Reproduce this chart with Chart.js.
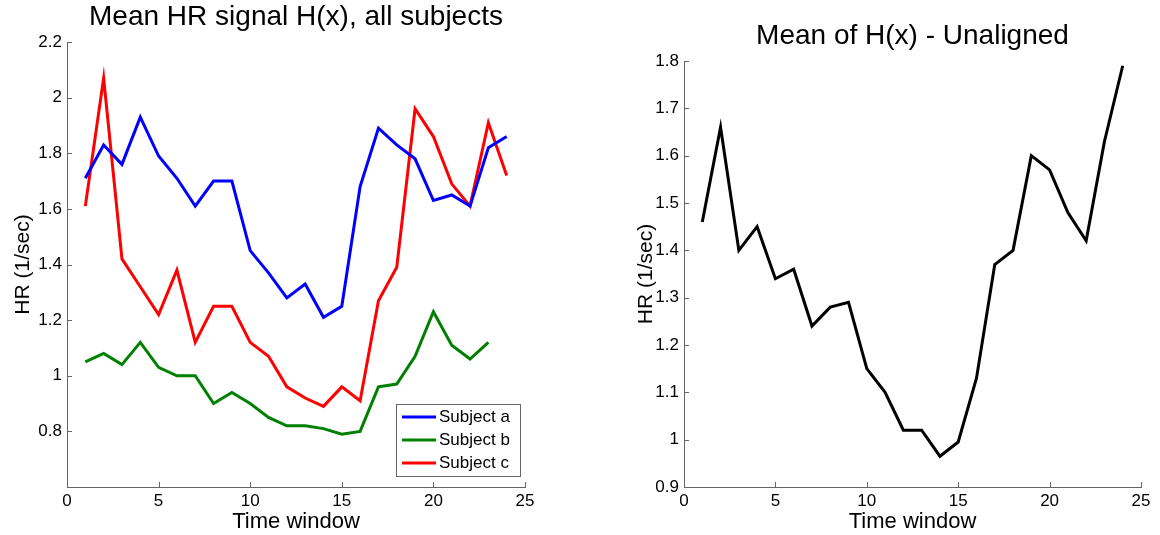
<!DOCTYPE html>
<html lang="en">
<head>
<meta charset="UTF-8">
<title>Mean HR signal H(x)</title>
<script src="https://cdn.jsdelivr.net/npm/chart.js@4.4.0/dist/chart.umd.min.js"></script>
<style>
    body { margin: 0; background: #fff; }
    #wrap { position: relative; width: 1160px; height: 535px; }
    .box { position: absolute; top: 0; width: 580px; height: 535px; }
</style>
</head>
<body>
<div id="wrap">
    <div class="box" style="left: 0;"><canvas id="left"></canvas></div>
    <div class="box" style="left: 580px;"><canvas id="right"></canvas></div>
</div>
<script>
    // values
    var timeWindow = [1, 2, 3, 4, 5, 6, 7, 8, 9, 10, 11, 12, 13, 14, 15, 16, 17, 18, 19, 20, 21, 22, 23, 24];
    var subjectA = [1.71, 1.83, 1.76, 1.93, 1.79, 1.71, 1.61, 1.70, 1.70, 1.45, 1.37, 1.28, 1.33, 1.21, 1.25, 1.68, 1.89, 1.83, 1.78, 1.63, 1.65, 1.61, 1.82, 1.86];
    var subjectB = [1.05, 1.08, 1.04, 1.12, 1.03, 1.00, 1.00, 0.90, 0.94, 0.90, 0.85, 0.82, 0.82, 0.81, 0.79, 0.80, 0.96, 0.97, 1.07, 1.23, 1.11, 1.06, 1.12, null];
    var subjectC = [1.61, 2.07, 1.42, 1.32, 1.22, 1.38, 1.12, 1.25, 1.25, 1.12, 1.07, 0.96, 0.92, 0.89, 0.96, 0.91, 1.27, 1.39, 1.96, 1.86, 1.69, 1.61, 1.91, 1.72];
    var meanUnaligned = [1.46, 1.66, 1.40, 1.45, 1.34, 1.36, 1.24, 1.28, 1.29, 1.15, 1.10, 1.02, 1.02, 0.965, 0.995, 1.13, 1.37, 1.40, 1.60, 1.57, 1.48, 1.42, 1.63, 1.79];

    var xTicks = [0, 5, 10, 15, 20, 25];
    var leftYTicks = [0.6, 0.8, 1, 1.2, 1.4, 1.6, 1.8, 2, 2.2];
    var rightYTicks = [0.9, 1, 1.1, 1.2, 1.3, 1.4, 1.5, 1.6, 1.7, 1.8];

    var FONT = "'Liberation Sans', Arial, sans-serif";
    var AXIS = '#666';

    function points(ys) {
        return timeWindow.map(function (x, i) { return { x: x, y: ys[i] }; });
    }

    function fmt(v) {
        return String(Math.round(v * 10) / 10);
    }

    // MATLAB style ticks pointing into the plot
    var inwardTicks = {
        id: 'inwardTicks',
        afterDraw: function (chart) {
            var ctx = chart.ctx, a = chart.chartArea;
            var sx = chart.scales.x, sy = chart.scales.y;
            ctx.save();
            ctx.strokeStyle = AXIS;
            ctx.lineWidth = 1;
            ctx.beginPath();
            sx.ticks.forEach(function (t) {
                var px = Math.round(sx.getPixelForValue(t.value)) + 0.5;
                ctx.moveTo(px, a.bottom);
                ctx.lineTo(px, a.bottom - 5);
            });
            sy.ticks.forEach(function (t) {
                var py = Math.round(sy.getPixelForValue(t.value)) + 0.5;
                ctx.moveTo(a.left, py);
                ctx.lineTo(a.left + 5, py);
            });
            ctx.stroke();
            ctx.restore();
        }
    };

    // title centred over the plot area, not the whole canvas
    var plotTitle = {
        id: 'plotTitle',
        afterDraw: function (chart, args, opts) {
            var ctx = chart.ctx, a = chart.chartArea;
            ctx.save();
            ctx.font = '28px ' + FONT;
            ctx.fillStyle = '#000';
            ctx.textAlign = 'center';
            ctx.textBaseline = 'middle';
            ctx.fillText(opts.text, (a.left + a.right) / 2, a.top - opts.gap);
            ctx.restore();
        }
    };

    // boxed legend in the lower right corner of the plot
    var boxLegend = {
        id: 'boxLegend',
        afterDraw: function (chart) {
            var ctx = chart.ctx, a = chart.chartArea;
            var sets = chart.data.datasets;
            var w = 124, rowH = 23, h = sets.length * rowH + 3;
            var x0 = a.right - 5 - w, y0 = a.bottom - 11 - h;
            ctx.save();
            ctx.fillStyle = '#fff';
            ctx.fillRect(x0, y0, w, h);
            ctx.strokeStyle = AXIS;
            ctx.lineWidth = 1;
            ctx.strokeRect(Math.round(x0) + 0.5, Math.round(y0) + 0.5, w, h);
            ctx.font = '17px ' + FONT;
            ctx.textBaseline = 'middle';
            sets.forEach(function (ds, i) {
                var cy = y0 + 13 + i * rowH;
                ctx.strokeStyle = ds.borderColor;
                ctx.lineWidth = 3;
                ctx.beginPath();
                ctx.moveTo(x0 + 6, cy);
                ctx.lineTo(x0 + 40, cy);
                ctx.stroke();
                ctx.fillStyle = '#000';
                ctx.fillText(ds.label, x0 + 43, cy);
            });
            ctx.restore();
        }
    };

    function lineSet(label, ys, color) {
        return {
            label: label,
            data: points(ys),
            borderColor: color,
            backgroundColor: color,
            borderWidth: 3,
            pointRadius: 0,
            tension: 0,
            fill: false,
            clip: false
        };
    }

    function options(title, top, titleGap, padLeft, padRight, yWidth, yMin, yMax, yTicks) {
        return {
            responsive: true,
            maintainAspectRatio: false,
            animation: false,
            layout: { padding: { left: padLeft, right: padRight, top: top, bottom: 0 } },
            plugins: {
                legend: { display: false },
                tooltip: { enabled: false },
                title: { display: false },
                plotTitle: { text: title, gap: titleGap }
            },
            scales: {
                x: {
                    type: 'linear',
                    min: 0,
                    max: 25,
                    afterBuildTicks: function (s) { s.ticks = xTicks.map(function (v) { return { value: v }; }); },
                    afterFit: function (s) { s.height = 48; },
                    grid: { display: false, drawTicks: false },
                    border: { display: true, color: AXIS, width: 1 },
                    ticks: { color: '#000', padding: 4, maxRotation: 0, font: { family: FONT, size: 17 } },
                    title: {
                        display: true,
                        text: 'Time window',
                        color: '#000',
                        font: { family: FONT, size: 22 },
                        padding: { top: 0, bottom: 0 }
                    }
                },
                y: {
                    type: 'linear',
                    min: yMin,
                    max: yMax,
                    afterBuildTicks: function (s) { s.ticks = yTicks.map(function (v) { return { value: v }; }); },
                    afterFit: function (s) { s.width = yWidth; },
                    grid: { display: false, drawTicks: false },
                    border: { display: true, color: AXIS, width: 1 },
                    ticks: {
                        color: '#000',
                        padding: 5,
                        font: { family: FONT, size: 17 },
                        callback: function (v) { return (yMin === 0.6 && v === 0.6) ? '' : fmt(v); }
                    },
                    title: {
                        display: true,
                        text: 'HR (1/sec)',
                        color: '#000',
                        font: { family: FONT, size: 21 },
                        padding: { top: 11, bottom: 0 }
                    }
                }
            }
        };
    }

    new Chart(document.getElementById('left'), {
        type: 'line',
        data: {
            datasets: [
                lineSet('Subject a', subjectA, '#0000ff'),
                lineSet('Subject b', subjectB, '#008000'),
                lineSet('Subject c', subjectC, '#ff0000')
            ]
        },
        options: options('Mean HR signal H(x), all subjects', 42, 25, 0, 55, 67, 0.6, 2.2, leftYTicks),
        plugins: [inwardTicks, boxLegend, plotTitle]
    });

    new Chart(document.getElementById('right'), {
        type: 'line',
        data: {
            datasets: [
                lineSet('Mean', meanUnaligned, '#000000')
            ]
        },
        options: options('Mean of H(x) - Unaligned', 61, 25, 43, 19, 61, 0.9, 1.8, rightYTicks),
        plugins: [inwardTicks, plotTitle]
    });
</script>
</body>
</html>
